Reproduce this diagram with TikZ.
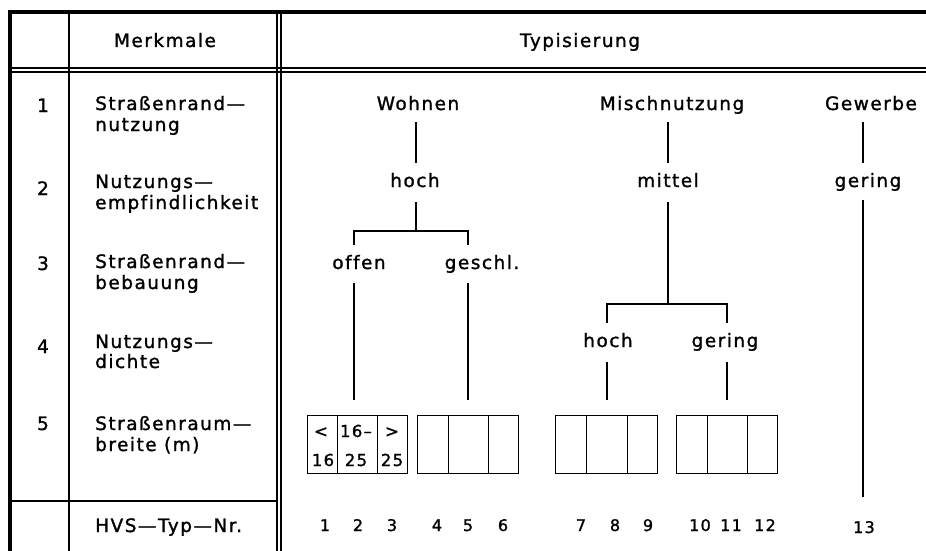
\documentclass[tikz,border=0pt]{standalone}
\usepackage{fontspec}
\setmainfont{DejaVu Sans}[LetterSpace=8, FakeBold=1.3, Ligatures=NoCommon]
\begin{document}
\begin{tikzpicture}[x=1pt,y=-1pt,
  lbl/.style={inner sep=0pt, anchor=base, font=\fontsize{18.5}{21}\selectfont},
  lblw/.style={lbl, anchor=base west},
  num/.style={inner sep=0pt, anchor=base, font=\fontsize{16}{18}\selectfont},
  cellt/.style={inner sep=0pt, anchor=base, font=\fontsize{16.5}{19}\selectfont},
  cell/.style={draw, line width=1.3pt, minimum height=58pt, inner sep=0pt, anchor=north west},
  rule/.style={line width=1.2pt},
  frame/.style={line width=4pt},
  branch/.style={line width=1.3pt}]
\useasboundingbox (0,0) rectangle (926,551);
% table frame
\draw[frame] (8,12) -- (926,12);
\draw[frame] (10,10) -- (10,551);
\draw[rule] (69,12) -- (69,551);
\draw[rule] (277,12) -- (277,551);
\draw[rule] (281,12) -- (281,551);
\draw[rule] (10,68) -- (926,68);
\draw[rule] (10,72) -- (926,72);
\draw[rule] (10,501) -- (277,501);
% header
\node[lbl] (hmerk) at (165,47) {Merkmale};
\node[lbl] (htyp) at (580,47) {Typisierung};
% left column
\node[lbl] (n1) at (43,112) {1};
\node[lblw] (t1a) at (95,110) {Straßenrand—};
\node[lblw] (t1b) at (95,131) {nutzung};
\node[lbl] (n2) at (43,195) {2};
\node[lblw] (t2a) at (95,188) {Nutzungs—};
\node[lblw] (t2b) at (95,209) {empfindlichkeit};
\node[lbl] (n3) at (43,270) {3};
\node[lblw] (t3a) at (95,268) {Straßenrand—};
\node[lblw] (t3b) at (95,289) {bebauung};
\node[lbl] (n4) at (43,353) {4};
\node[lblw] (t4a) at (95,348) {Nutzungs—};
\node[lblw] (t4b) at (95,368) {dichte};
\node[lbl] (n5) at (43,430) {5};
\node[lblw] (t5a) at (95,430) {Straßenraum—};
\node[lblw] (t5b) at (95,451) {breite (m)};
\node[lblw] (thvs) at (95,532) {HVS—Typ—Nr.};
% tree labels
\node[lbl] (wohnen) at (418,110) {Wohnen};
\node[lbl] (misch) at (672,110) {Mischnutzung};
\node[lbl] (gewerbe) at (871,110) {Gewerbe};
\node[lbl] (hochA) at (415,187) {hoch};
\node[lbl] (mittel) at (668,187) {mittel};
\node[lbl] (geringA) at (868,187) {gering};
\node[lbl] (offen) at (359,269) {offen};
\node[lbl] (geschl) at (482,269) {geschl.};
\node[lbl] (hochB) at (608,347) {hoch};
\node[lbl] (geringB) at (725,347) {gering};
% connector coordinates
\coordinate (wB) at (416,122); \coordinate (hT) at (416,163);
\coordinate (mB) at (668,122); \coordinate (miT) at (668,163);
\coordinate (gB) at (863,122); \coordinate (geT) at (863,163);
\coordinate (hB) at (416,202); \coordinate (hJ) at (416,231);
\coordinate (oT) at (354,245); \coordinate (oJ) at (354,231);
\coordinate (sT) at (468,245); \coordinate (sJ) at (468,231);
\coordinate (oB) at (354,283); \coordinate (oE) at (354,400);
\coordinate (sB) at (468,283); \coordinate (sE) at (468,400);
\coordinate (miB) at (668,202); \coordinate (miJ) at (668,304);
\coordinate (h2T) at (607,323); \coordinate (h2J) at (607,304);
\coordinate (g2T) at (727,323); \coordinate (g2J) at (727,304);
\coordinate (h2B) at (607,362); \coordinate (h2E) at (607,400);
\coordinate (g2B) at (727,362); \coordinate (g2E) at (727,400);
\coordinate (geB) at (863,200); \coordinate (geE) at (863,497);
\draw[branch] (wB) -- (hT);
\draw[branch] (mB) -- (miT);
\draw[branch] (gB) -- (geT);
\draw[branch] (hB) -- (hJ);
\draw[branch] (oT) -- (oJ) -- (sJ) -- (sT);
\draw[branch] (oB) -- (oE);
\draw[branch] (sB) -- (sE);
\draw[branch] (miB) -- (miJ);
\draw[branch] (h2T) -- (h2J) -- (g2J) -- (g2T);
\draw[branch] (h2B) -- (h2E);
\draw[branch] (g2B) -- (g2E);
\draw[branch] (geB) -- (geE);
% boxes
\node[cell, minimum width=30pt] (c1) at (307,415) {};
\node[cell, minimum width=40pt] (c2) at (337,415) {};
\node[cell, minimum width=30pt] (c3) at (377,415) {};
\node[cell, minimum width=31pt] (c4) at (417,415) {};
\node[cell, minimum width=40pt] (c5) at (448,415) {};
\node[cell, minimum width=30pt] (c6) at (488,415) {};
\node[cell, minimum width=31pt] (c7) at (555,415) {};
\node[cell, minimum width=41pt] (c8) at (586,415) {};
\node[cell, minimum width=30pt] (c9) at (627,415) {};
\node[cell, minimum width=31pt] (c10) at (676,415) {};
\node[cell, minimum width=40pt] (c11) at (707,415) {};
\node[cell, minimum width=30pt] (c12) at (747,415) {};
% box texts
\node[cellt] (b1a) at (321,437) {<};
\node[cellt] (b1b) at (323,466) {16};
\node[cellt] (b2a) at (356,437) {16–};
\node[cellt] (b2b) at (356,466) {25};
\node[cellt] (b3a) at (392,437) {>};
\node[cellt] (b3b) at (392,466) {25};
% type numbers
\node[num] (k1) at (325,531) {1};
\node[num] (k2) at (358,531) {2};
\node[num] (k3) at (392,531) {3};
\node[num] (k4) at (437,531) {4};
\node[num] (k5) at (468,531) {5};
\node[num] (k6) at (503,531) {6};
\node[num] (k7) at (581,531) {7};
\node[num] (k8) at (615,531) {8};
\node[num] (k9) at (648,531) {9};
\node[num] (k10) at (700,531) {10};
\node[num] (k11) at (731,531) {11};
\node[num] (k12) at (765,531) {12};
\node[num] (k13) at (864,533) {13};
\end{tikzpicture}
\end{document}
